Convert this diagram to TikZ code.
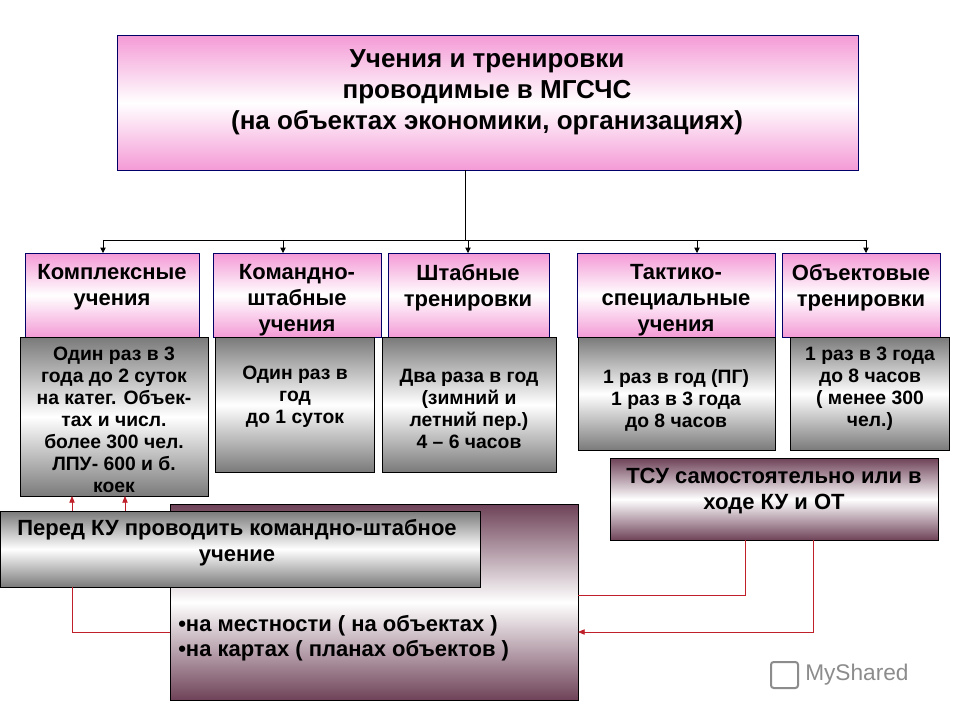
\documentclass[tikz,border=0pt]{standalone}
\usepackage{fontspec}
\setmainfont{Liberation Sans}
\usetikzlibrary{arrows.meta}
\definecolor{pk}{HTML}{F49AD6}
\definecolor{gr}{HTML}{7A7A7A}
\definecolor{mr}{HTML}{6E4258}
\definecolor{rl}{HTML}{C0202A}
\begin{document}
\begin{tikzpicture}[x=0.75pt,y=-0.75pt,
  wh/.style 2 args={minimum width=#1*0.75pt, minimum height=#2*0.75pt, inner sep=0pt, anchor=north west, align=center, font=\bfseries},
  pinkbox/.style={draw=blue!40!black, top color=pk, bottom color=pk, middle color=white},
  graybox/.style={draw=black, top color=gr, bottom color=gr, middle color=white},
  maroonbox/.style={draw=black, top color=mr, bottom color=mr, middle color=white},
  blk/.style={draw=black, line width=0.6pt, -{Triangle[length=4pt,width=4pt]}},
  red/.style={draw=rl, line width=0.6pt},
  redar/.style={red, -{Triangle[length=5pt,width=4pt]}}]
\useasboundingbox (0,0) rectangle (960,720);
\fill[white] (0,0) rectangle (960,720);
% title
\node[pinkbox, wh={741}{135}] (top) at (117,35) {};
\node[anchor=north, align=center, font=\bfseries\fontsize{19.5}{23.5}\selectfont, inner sep=0pt] (tt) at (487,49) {Учения и тренировки\\проводимые в МГСЧС\\(на объектах экономики, организациях)};
% pink boxes
\node[pinkbox, wh={174}{84}] (a) at (25,253) {};
\node[pinkbox, wh={168}{84}] (b) at (213,253) {};
\node[pinkbox, wh={161}{84}] (c) at (388,253) {};
\node[pinkbox, wh={198}{84}] (d) at (577,253) {};
\node[pinkbox, wh={158}{84}] (e) at (782,253) {};
\tikzset{pt/.style={anchor=north, align=center, font=\bfseries\fontsize{16.5}{19.5}\selectfont, inner sep=0pt}}
\node[pt] (at) at (112,264) {Комплексные\\учения};
\node[pt] (bt) at (297,264) {Командно-\\штабные\\учения};
\node[pt] (ct) at (468,264) {Штабные\\тренировки};
\node[pt] (dt) at (676,264) {Тактико-\\специальные\\учения};
\node[pt] (et) at (861,264) {Объектовые\\тренировки};
% connectors
\coordinate (j) at (465,240);
\coordinate (ts) at (465,170);
\draw[line width=0.6pt] (ts) -- (j);
\draw[line width=0.6pt] (103,240) -- (866,240);
\draw[blk] (103,240) -- (103,253);
\draw[blk] (283,240) -- (283,253);
\draw[blk] (468,240) -- (468,253);
\draw[blk] (697,240) -- (697,253);
\draw[blk] (866,240) -- (866,253);
% gray boxes
\tikzset{gt/.style={anchor=north, align=center, font=\bfseries\fontsize{14.5}{16.5}\selectfont, inner sep=0pt}}
\node[graybox, wh={188}{159}] (ga) at (20,337) {};
\node[graybox, wh={159}{135}] (gb) at (215,337) {};
\node[graybox, wh={174}{135}] (gc) at (382,337) {};
\node[graybox, wh={197}{113}] (gd) at (578,337) {};
\node[graybox, wh={159}{113}] (ge) at (790,337) {};
\node[gt] at (114,347) {Один раз в 3\\года до 2 суток\\на катег. Объек-\\тах и числ.\\более 300 чел.\\ЛПУ- 600 и б.\\коек};
\node[gt] at (295,366) {Один раз в\\год\\до 1 суток};
\node[gt] at (469,369) {Два раза в год\\(зимний и\\летний пер.)\\4 – 6 часов};
\node[gt] at (676,369) {1 раз в год (ПГ)\\1 раз в 3 года\\до 8 часов};
\node[gt] at (870,347) {1 раз в 3 года\\до 8 часов\\( менее 300\\чел.)};
% TSU
\node[maroonbox, wh={328}{82}] (tsu) at (610,458) {};
\node[anchor=north, align=center, font=\bfseries\fontsize{16.5}{19.5}\selectfont, inner sep=0pt] at (774,468) {ТСУ самостоятельно или в\\ходе КУ и ОТ};
% big box
\node[maroonbox, wh={408}{196}] (big) at (170,504) {};
\node[anchor=north west, align=left, font=\bfseries\fontsize{16.5}{19}\selectfont, inner sep=0pt] at (178,615) {\textbullet на местности ( на объектах )\\\textbullet на картах ( планах объектов )};
% pered
\node[graybox, wh={480}{76}] (pr) at (0,511) {};
\node[anchor=north, align=center, font=\bfseries\fontsize{16.5}{19.5}\selectfont, inner sep=0pt] at (237,519) {Перед КУ проводить командно-штабное\\учение};
% red connectors
\draw[redar] (72,511) -- (72,496);
\draw[redar] (125,511) -- (125,496);
\draw[red] (72,587) -- (72,632) -- (170,632);
\draw[red] (745,540) -- (745,595) -- (578,595);
\draw[redar] (813,540) -- (813,632) -- (578,632);
% watermark
\node[anchor=west, font=\fontsize{17}{20}\selectfont, text=black!45, inner sep=0pt] (wm) at (805,675) {MyShared};
\draw[black!45, line width=1.5pt, rounded corners=2pt] (771,662) rectangle (798,688);
\end{tikzpicture}
\end{document}
